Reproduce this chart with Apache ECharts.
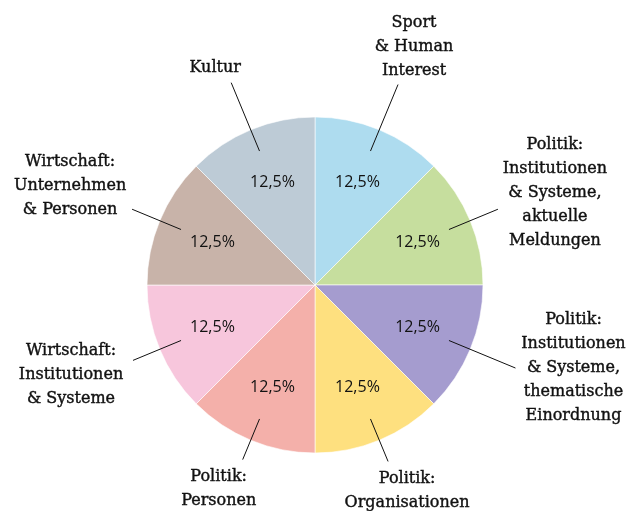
<!DOCTYPE html>
<html>
<head>
<meta charset="utf-8">
<script src="https://cdn.jsdelivr.net/npm/echarts@6/dist/echarts.min.js"></script>
<style>
  html, body { margin: 0; padding: 0; background: #fff; }
  #main { width: 634px; height: 511px; }
</style>
</head>
<body>
<div id="main"></div>
<script>
var categories = [
    'Sport\n& Human\nInterest',
    'Politik:\nInstitutionen\n& Systeme,\naktuelle\nMeldungen',
    'Politik:\nInstitutionen\n& Systeme,\nthematische\nEinordnung',
    'Politik:\nOrganisationen',
    'Politik:\nPersonen',
    'Wirtschaft:\nInstitutionen\n& Systeme',
    'Wirtschaft:\nUnternehmen\n& Personen',
    'Kultur'
];
var shares = [12.5, 12.5, 12.5, 12.5, 12.5, 12.5, 12.5, 12.5];
var colors = ['#aedcef', '#c6de9e', '#a59ccf', '#fee07f', '#f4b0aa', '#f7c6dc', '#c8b3a9', '#bdcbd6'];

// label line length and text offset from line end, per slice
var lineLen = [72, 53, 72, 46, 44, 52, 53, 74];
var textOffset = [[16, -38], [57, -16], [58, 0], [19, 29], [-24, 29], [-62, 14], [-62, -23], [-16, -15]];

var myChart = echarts.init(document.getElementById('main'));

var fills = shares.map(function (v, i) {
    return { name: categories[i], value: v, itemStyle: { color: colors[i] } };
});
var blank = shares.map(function (v, i) {
    return { name: categories[i], value: v };
});
var withLines = shares.map(function (v, i) {
    return { name: categories[i], value: v, labelLine: { length: lineLen[i] } };
});

option = {
    animation: false,
    series: [{
        type: 'pie',
        center: [315, 285],
        radius: 168,
        startAngle: 90,
        silent: true,
        z: 1,
        label: { show: false },
        labelLine: { show: false },
        itemStyle: { borderColor: '#fff', borderWidth: 0.6 },
        data: fills
    }, {
        type: 'pie',
        center: [315, 285],
        radius: [48, 168],
        startAngle: 90,
        silent: true,
        z: 4,
        itemStyle: { color: 'rgba(0,0,0,0)' },
        label: {
            show: true,
            position: 'inside',
            fontFamily: 'Open Sans',
            fontSize: 16,
            color: '#111',
            formatter: function (p) {
                return p.percent.toFixed(1).replace('.', ',') + '%';
            }
        },
        labelLine: { show: false },
        data: blank
    }, {
        type: 'pie',
        center: [315, 285],
        radius: 145,
        startAngle: 90,
        silent: true,
        z: 6,
        avoidLabelOverlap: false,
        itemStyle: { color: 'rgba(0,0,0,0)' },
        label: {
            show: true,
            position: 'outside',
            fontFamily: 'DejaVu Serif',
            fontSize: 16,
            lineHeight: 24,
            color: '#111',
            textBorderColor: '#111',
            textBorderWidth: 0.4,
            align: 'center'
        },
        labelLine: {
            show: true,
            length: 50,
            length2: 0,
            smooth: false,
            lineStyle: { color: '#111', width: 1 }
        },
        labelLayout: function (params) {
            var pts = params.labelLinePoints;
            if (!pts) return {};
            var end = pts[1];
            var off = textOffset[params.dataIndex];
            return {
                x: end[0] + off[0],
                y: end[1] + off[1],
                align: 'center',
                verticalAlign: 'middle',
                labelLinePoints: [pts[0], pts[1]]
            };
        },
        data: withLines
    }]
};

myChart.setOption(option);

window.onresize = function () {
    myChart.resize();
};
</script>
</body>
</html>
